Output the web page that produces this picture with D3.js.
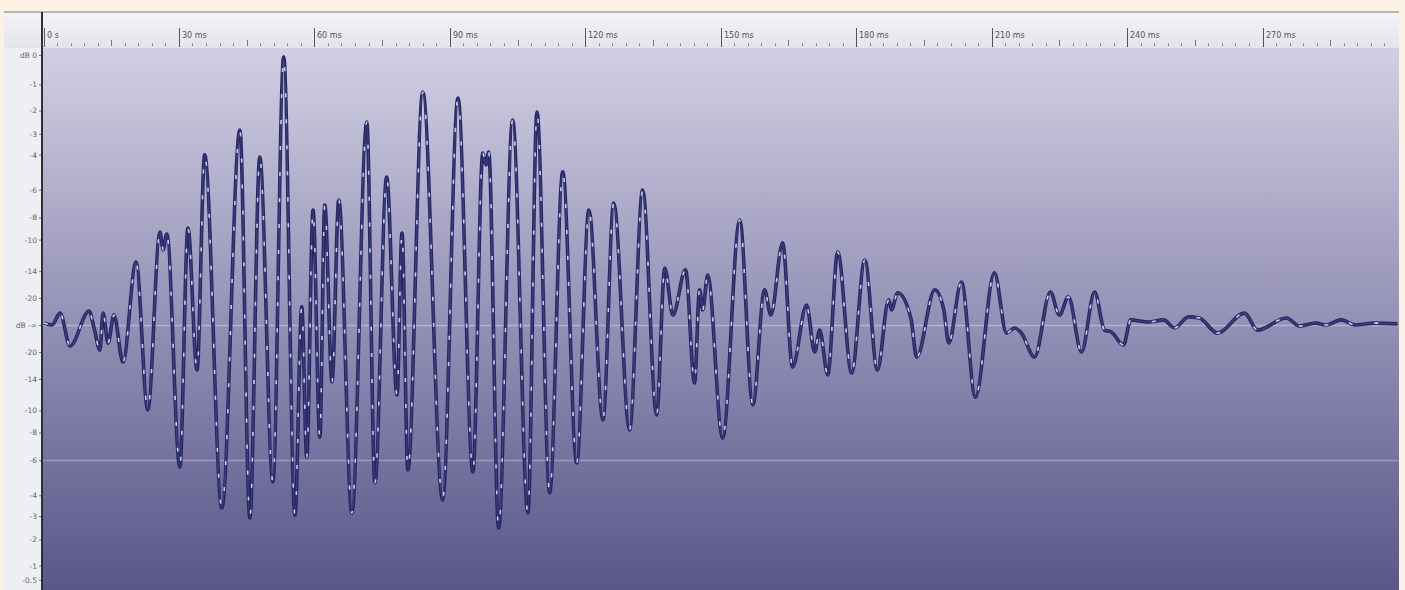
<!DOCTYPE html>
<html>
<head>
<meta charset="utf-8">
<script src="https://cdn.jsdelivr.net/npm/d3@7"></script>
<style>
  html, body { margin: 0; padding: 0; background: #FBF1E5; }
  svg { display: block; }
</style>
</head>
<body>
<svg id="chart" width="1405" height="590"></svg>
<script>
// Waveform turning points: time (ms) and linear amplitude (-1..1)
const timeMs = [
  0.1, 1.9, 3.65, 5.9, 10.1, 11.2, 12.5, 13.2, 14.3, 15.6, 17.6, 20.5, 23.1, 25.8, 26.5, 27.3,
  30.2, 32.0, 34.0, 35.7, 39.5, 43.5, 45.7, 47.9, 50.8, 53.2, 55.7, 57.2, 58.3, 59.7, 61.2, 62.3,
  63.9, 65.4, 68.3, 71.6, 73.4, 76.0, 78.3, 79.4, 80.7, 84.0, 88.4, 91.8, 95.1, 97.3, 98.0, 98.6,
  100.8, 103.9, 107.3, 109.3, 112.1, 115.0, 118.1, 120.8, 123.9, 126.3, 129.8, 132.7, 135.8, 137.6,
  139.4, 142.2, 144.2, 145.3, 146.0, 147.1, 150.4, 154.2, 157.1, 159.7, 161.1, 163.7, 165.9, 169.0,
  170.8, 171.9, 173.7, 175.9, 179.0, 181.9, 184.7, 187.2, 187.8, 189.2, 192.1, 193.4, 197.4, 199.4,
  200.5, 203.3, 206.4, 210.6, 213.3, 215.1, 216.6, 219.5, 223.0, 225.0, 227.0, 229.9, 232.8, 235.0,
  236.5, 239.2, 240.8, 244.7, 248.1, 250.5, 253.6, 256.0, 260.0, 266.0, 268.9, 275.3, 278.2, 281.7,
  284.1, 287.4, 290.5, 294.8, 299.9
];
const amplitude = [
  0.007, 0.000, 0.044, -0.078, 0.052, -0.011, -0.093, 0.044, -0.067, 0.037, -0.137, 0.233, -0.315, 0.344, 0.278, 0.337,
  -0.526, 0.359, -0.167, 0.630, -0.678, 0.722, -0.715, 0.622, -0.581, 0.993, -0.704, 0.067, -0.489, 0.426, -0.415, 0.444,
  -0.211, 0.463, -0.696, 0.752, -0.585, 0.548, -0.259, 0.341, -0.537, 0.863, -0.648, 0.841, -0.544, 0.637, 0.593, 0.641,
  -0.752, 0.759, -0.696, 0.789, -0.622, 0.567, -0.511, 0.426, -0.352, 0.452, -0.389, 0.500, -0.333, 0.211,
  0.037, 0.204, -0.215, 0.130, 0.056, 0.185, -0.419, 0.389, -0.296, 0.130, 0.037, 0.304, -0.156, 0.074,
  -0.100, -0.019, -0.185, 0.270, -0.178, 0.241, -0.167, 0.093, 0.056, 0.119, 0.026, -0.119, 0.130, 0.056,
  -0.067, 0.159, -0.267, 0.193, -0.030, -0.011, -0.030, -0.119, 0.122, 0.037, 0.104, -0.100, 0.122, -0.019,
  -0.026, -0.074, 0.019, 0.011, 0.019, -0.011, 0.030, 0.026, -0.030, 0.044, -0.019, 0.026, -0.004, 0.007,
  0.000, 0.019, 0.000, 0.007, 0.004
];

// Time ruler
const rulerMajorMs = [0, 30, 60, 90, 120, 150, 180, 210, 240, 270];
const rulerLabels = ["0 s", "30 ms", "60 ms", "90 ms", "120 ms", "150 ms", "180 ms", "210 ms", "240 ms", "270 ms"];
const rulerMinorStepMs = 3;

// Level ruler (dB), mirrored around the zero line
const dbTicks = [0, -1, -2, -3, -4, -6, -8, -10, -14, -20];
const dbGuides = [-6];

const svg = d3.select("#chart");
const W = 1405, H = 590;

const x = d3.scaleLinear().domain([0, 300]).range([43.5, 1398]);
const y = d3.scaleLinear().domain([-1, 1]).range([595, 55]);

const defs = svg.append("defs");
const bg = defs.append("linearGradient").attr("id", "plotBg")
  .attr("x1", 0).attr("y1", 0).attr("x2", 0).attr("y2", 1);
bg.append("stop").attr("offset", "0%").attr("stop-color", "#D2CFE3");
bg.append("stop").attr("offset", "50%").attr("stop-color", "#9391B6");
bg.append("stop").attr("offset", "100%").attr("stop-color", "#585788");

const rulerBg = defs.append("linearGradient").attr("id", "rulerBg")
  .attr("x1", 0).attr("y1", 0).attr("x2", 0).attr("y2", 1);
rulerBg.append("stop").attr("offset", "0%").attr("stop-color", "#F3F3F5");
rulerBg.append("stop").attr("offset", "100%").attr("stop-color", "#E4E5EB");

const plotTop = 48, plotLeft = 43, plotRight = 1399;

// frame panels
svg.append("rect").attr("x", 4).attr("y", 12).attr("width", plotRight - 4).attr("height", H - 12)
  .attr("fill", "#EEEFF3");
svg.append("rect").attr("x", 4).attr("y", 12).attr("width", plotRight - 4).attr("height", plotTop - 12)
  .attr("fill", "url(#rulerBg)");
svg.append("line").attr("x1", 4).attr("x2", plotRight).attr("y1", 12).attr("y2", 12)
  .attr("stroke", "#A0A0A0").attr("stroke-width", 1.5);

// plot background
svg.append("rect").attr("x", plotLeft).attr("y", plotTop)
  .attr("width", plotRight - plotLeft).attr("height", H - plotTop)
  .attr("fill", "url(#plotBg)");

// guide lines: zero line and -6 dB on both sides
const guideVals = [0];
dbGuides.forEach(d => { const a = Math.pow(10, d / 20); guideVals.push(a, -a); });
svg.append("g").selectAll("line").data(guideVals).join("line")
  .attr("x1", plotLeft).attr("x2", plotRight)
  .attr("y1", d => Math.round(y(d)) + 0.5).attr("y2", d => Math.round(y(d)) + 0.5)
  .attr("stroke", d => d === 0 ? "rgba(225,223,240,0.45)" : d > 0 ? "rgba(225,223,240,0.12)" : "rgba(225,223,240,0.35)")
  .attr("stroke-width", 1.5);

// ruler ticks
const ruler = svg.append("g").attr("font-family", "DejaVu Sans, Verdana, sans-serif")
  .attr("font-size", 8).attr("fill", "#555");
const minor = d3.range(0, 300 + 0.001, rulerMinorStepMs).filter(t => t % 30 !== 0);
ruler.selectAll("line.minor").data(minor).join("line").attr("class", "minor")
  .attr("x1", d => Math.round(x(d)) + 0.5).attr("x2", d => Math.round(x(d)) + 0.5)
  .attr("y1", d => d % 15 === 0 ? 40 : 43.5).attr("y2", 46)
  .attr("stroke", "#777").attr("stroke-width", 1);
ruler.selectAll("line.major").data(rulerMajorMs).join("line").attr("class", "major")
  .attr("x1", d => Math.round(x(d)) + 0.5).attr("x2", d => Math.round(x(d)) + 0.5)
  .attr("y1", 28).attr("y2", 47)
  .attr("stroke", "#555").attr("stroke-width", 1);
ruler.selectAll("text").data(rulerMajorMs).join("text")
  .attr("x", d => Math.round(x(d)) + 3).attr("y", 38)
  .text((d, i) => rulerLabels[i]);

// level axis on the left
const ampTicks = [];
dbTicks.forEach(d => {
  const a = Math.pow(10, d / 20);
  ampTicks.push({ a: a, label: d === 0 ? "dB 0" : String(d) });
  ampTicks.push({ a: -a, label: d === 0 ? "" : String(d) });
});
ampTicks.push({ a: 0, label: "dB -\u221E" });
ampTicks.push({ a: -Math.pow(10, -0.5 / 20), label: "-0.5" });

const yAxis = d3.axisLeft(y)
  .tickValues(ampTicks.map(t => t.a))
  .tickFormat((d, i) => ampTicks[i].label)
  .tickSize(3).tickPadding(2);
const yg = svg.append("g").attr("transform", `translate(${plotLeft - 1},0)`).call(yAxis);
yg.select(".domain").remove();
yg.selectAll(".tick line").attr("stroke", "#777");
yg.selectAll(".tick text").attr("font-family", "DejaVu Sans, Verdana, sans-serif")
  .attr("font-size", 7.5).attr("fill", "#666");

// left border of the plot
svg.append("line").attr("x1", plotLeft - 1).attr("x2", plotLeft - 1).attr("y1", 12).attr("y2", H)
  .attr("stroke", "#2E2E36").attr("stroke-width", 2);

// waveform: smooth trace through the turning points with light sample highlights
const pts = timeMs.map((t, i) => [t, amplitude[i]]);
const line = d3.line().x(d => x(d[0])).y(d => y(d[1])).curve(d3.curveMonotoneX);
const wave = svg.append("g");
wave.append("path").attr("d", line(pts)).attr("fill", "none")
  .attr("stroke", "#26255F").attr("stroke-width", 3.6).attr("stroke-linejoin", "round");
wave.append("path").attr("d", line(pts)).attr("fill", "none")
  .attr("stroke", "#3D3C82").attr("stroke-width", 1.5).attr("stroke-linejoin", "round");
wave.append("path").attr("d", line(pts)).attr("fill", "none")
  .attr("stroke", "#D2F1FB").attr("stroke-width", 1.6).attr("stroke-opacity", 0.85)
  .attr("stroke-dasharray", "4 22");
</script>
</body>
</html>
